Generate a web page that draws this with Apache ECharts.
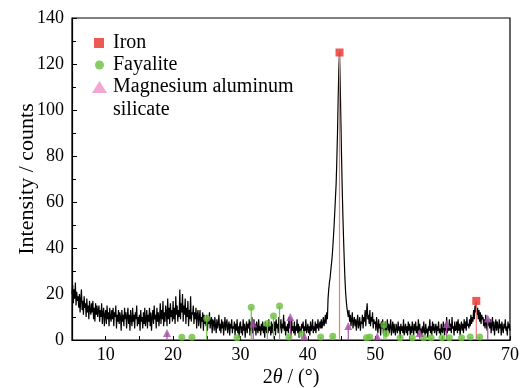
<!DOCTYPE html>
<html><head><meta charset="utf-8">
<script src="https://cdn.jsdelivr.net/npm/echarts@6/dist/echarts.min.js"></script>
<style>html,body{margin:0;padding:0;background:#fff}#c{width:521px;height:388px}</style>
</head><body><div id="c"></div>
<script>
// 2θ grid: 5.0 to 70.0, step 0.1 (one row = 1°)
const thetaStart = 5.0, thetaStep = 0.1;
const intensity = [
20,24,16,22,18,25,15,21,17,19,
14,20,12,18,22,13,17,11,19,14,
16,10,18,12,15,9,17,13,11,16,
12,17,9,14,8,16,11,15,10,13,
15,8,13,10,16,7,12,14,6,11,
13,7,15,9,12,6,14,10,8,13,
9,14,6,12,10,15,5,11,8,13,
7,12,10,4,13,8,11,6,14,9,
12,5,10,14,7,11,4,13,9,6,
14,8,11,5,12,9,15,6,10,7,
11,4,13,8,10,5,12,7,14,6,
9,13,5,11,8,14,6,12,4,10,
13,7,15,9,11,5,14,8,12,6,
10,16,7,13,9,17,6,12,8,15,
12,6,18,9,14,7,16,10,13,8,
17,9,14,7,19,11,15,8,13,10,
22,9,16,12,20,8,15,11,18,7,
14,10,17,6,13,9,19,8,12,11,
15,7,12,9,14,5,11,13,6,10,
13,5,10,8,12,4,11,7,9,6,
11,4,9,7,12,5,8,10,3,9,
8,4,10,6,3,9,5,7,11,4,
7,3,9,5,8,2,6,10,4,7,
9,3,6,8,2,7,5,9,3,6,
5,8,2,7,4,9,3,6,1,7,
8,3,6,2,9,4,7,1,5,8,
3,7,5,9,2,8,4,10,3,6,
9,4,7,2,8,5,3,9,4,6,
2,7,4,8,3,6,1,8,5,3,
7,3,9,4,6,2,8,3,7,5,
4,8,2,9,5,7,3,10,4,6,
9,3,7,5,11,4,8,2,6,4,
7,3,10,5,8,2,9,4,6,3,
8,2,6,4,9,3,7,1,6,4,
3,7,5,8,2,6,4,9,3,5,
7,3,6,2,8,4,5,9,3,6,
4,8,3,7,5,9,4,6,8,5,
9,5,7,10,6,8,11,7,12,9,
18,22,25,27,30,33,36,40,45,50,
56,62,68,78,90,105,118,125,112,96,
80,66,54,44,35,27,21,17,14,12,
10,13,8,11,6,9,12,5,8,10,
6,9,4,8,11,5,7,10,4,8,
7,11,5,10,8,13,6,12,16,9,
11,7,13,6,10,8,12,5,9,7,
8,4,10,6,3,9,5,7,2,8,
5,9,3,7,4,8,2,6,9,4,
7,3,6,9,2,5,8,3,7,4,
2,7,5,3,8,4,6,1,7,4,
6,3,9,2,5,7,3,6,2,8,
4,7,2,6,3,8,5,2,7,4,
8,3,6,2,9,4,7,3,5,2,
6,3,8,4,2,7,3,5,1,6,
4,9,3,6,2,8,4,7,3,5,
7,2,6,4,8,3,5,2,7,4,
3,8,5,2,7,4,10,3,6,4,
9,4,7,3,10,5,6,2,8,4,
5,8,3,9,4,7,2,6,8,4,
7,3,9,5,8,4,10,6,7,5,
9,6,11,7,10,8,13,9,15,12,
16,11,14,9,13,8,12,7,11,9,
10,6,9,5,11,7,4,9,6,8,
5,9,3,7,10,4,8,2,6,9,
4,8,6,3,9,5,7,2,8,5,
3,7,5,9,4,6,2,8,5,7,
4
];
const ironX = [44.7, 65.0];
const ironY = [125, 17];
const fayaliteX = [21.3, 22.8, 25.0, 29.5, 31.6, 34.0, 34.9, 35.8, 37.2, 39.1, 41.9, 43.7, 48.7, 49.2, 51.3, 51.6, 53.7, 55.5, 57.2, 58.3, 59.9, 61.0, 62.8, 64.1, 65.5];
const fayaliteY = [1.2, 1.2, 9.4, 1.0, 14.2, 7.2, 10.4, 14.8, 1.3, 2.6, 1.3, 1.6, 1.0, 1.3, 6.5, 2.8, 1.0, 1.0, 1.0, 1.0, 1.0, 1.0, 1.0, 1.3, 1.3];
const mgX = [19.1, 31.9, 37.4, 39.5, 46.0, 50.3, 56.6, 60.6, 66.7];
const mgY = [3.0, 7.2, 10.0, 1.5, 6.1, 1.5, 3.0, 7.0, 9.3];
const xLabels = [10, 20, 30, 40, 50, 60, 70];
const xTicks = [10, 15, 20, 25, 30, 35, 40, 45, 50, 55, 60, 65, 70];
const legendNames = ['Iron', 'Fayalite', 'Magnesium aluminum silicate'];

const lineData = intensity.map((v, i) => [+(thetaStart + i * thetaStep).toFixed(2), v]);
const pairs = (xs, ys) => xs.map((x, i) => [x, ys[i]]);

const FONT = '"Liberation Serif", "Times New Roman", serif';
const RED = '#e8302a', GREEN = '#6cbf3c', PURPLE = '#a84ea8', PINK = '#f090c8';

function stems(data, color, name) {
  return {
    type: 'custom', name: name + ' stem', data: data, z: 3, silent: true,
    renderItem: function (params, api) {
      const p0 = api.coord([api.value(0), 0]);
      const p1 = api.coord([api.value(0), api.value(1)]);
      return { type: 'line', shape: { x1: p0[0], y1: p0[1], x2: p1[0], y2: p1[1] },
        style: { stroke: color, lineWidth: 1.2 } };
    },
    encode: { x: 0, y: 1 }
  };
}
function legendBox(name, icon, color, left, top, w, h, textPad) {
  return {
    left: left, top: top, itemWidth: w, itemHeight: h, selectedMode: false, padding: 0,
    textStyle: { fontFamily: FONT, fontSize: 20, color: '#000', padding: [0, 0, 0, textPad] },
    formatter: function (n) { return n === legendNames[2] ? 'Magnesium aluminum' : n; },
    data: [{ name: name, icon: icon, itemStyle: { color: color } }]
  };
}

const chart = echarts.init(document.getElementById('c'), null, { renderer: 'canvas' });
chart.setOption({
  animation: false,
  backgroundColor: '#fff',
  grid: { left: 72, right: 11, top: 18, bottom: 48, show: true, borderColor: '#000', borderWidth: 1.2,
    backgroundColor: 'transparent', outerBoundsMode: 'none', containLabel: false },
  legend: [
    legendBox(legendNames[0], 'rect', RED, 94, 33, 10, 10, 4),
    legendBox(legendNames[1], 'circle', GREEN, 95, 55, 9, 9, 4),
    legendBox(legendNames[2], 'triangle', PINK, 92, 77, 15, 12, 1)
  ],
  graphic: [{ type: 'text', left: 113, top: 100, style: { text: 'silicate', font: '20px ' + FONT, fill: '#000' } }],
  xAxis: {
    type: 'value', min: 5, max: 70,
    name: '2{i|θ} / (°)', nameLocation: 'middle', nameGap: 28, nameMoveOverlap: false,
    nameTextStyle: { fontFamily: FONT, fontSize: 20, color: '#000', rich: { i: { fontFamily: FONT, fontSize: 20, fontStyle: 'italic', color: '#000' } } },
    axisLine: { lineStyle: { color: '#000', width: 1.2 } },
    axisTick: { inside: true, length: 4, customValues: xTicks, lineStyle: { color: '#000' } },
    axisLabel: { customValues: xLabels, fontFamily: FONT, fontSize: 18, color: '#000', margin: 6 },
    splitLine: { show: false }
  },
  yAxis: {
    type: 'value', min: 0, max: 140, interval: 20,
    name: 'Intensity / counts', nameLocation: 'middle', nameGap: 34, nameMoveOverlap: false,
    nameTextStyle: { fontFamily: FONT, fontSize: 22, color: '#000' },
    axisLine: { show: true, lineStyle: { color: '#000', width: 1.2 } },
    axisTick: { inside: true, length: 5, lineStyle: { color: '#000' } },
    minorTick: { show: true, splitNumber: 2, length: 4, lineStyle: { color: '#000' } },
    axisLabel: { fontFamily: FONT, fontSize: 18, color: '#000', margin: 8 },
    splitLine: { show: false }
  },
  series: [
    { type: 'line', name: 'pattern', data: lineData, showSymbol: false, z: 2,
      lineStyle: { color: '#000', width: 1.2 }, silent: true },
    stems(pairs(fayaliteX, fayaliteY), GREEN, 'Fayalite'),
    stems(pairs(mgX, mgY), PURPLE, 'Mg'),
    stems(pairs(ironX, ironY), '#f07a7a', 'Iron'),
    { type: 'scatter', name: legendNames[1], data: pairs(fayaliteX, fayaliteY), symbol: 'circle', symbolSize: 7, z: 4,
      itemStyle: { color: GREEN } },
    { type: 'scatter', name: legendNames[2], data: pairs(mgX, mgY), symbol: 'triangle', symbolSize: 8, z: 4,
      itemStyle: { color: PURPLE } },
    { type: 'scatter', name: legendNames[0], data: pairs(ironX, ironY), symbol: 'rect', symbolSize: 8, z: 5,
      itemStyle: { color: RED } }
  ]
});
</script></body></html>
